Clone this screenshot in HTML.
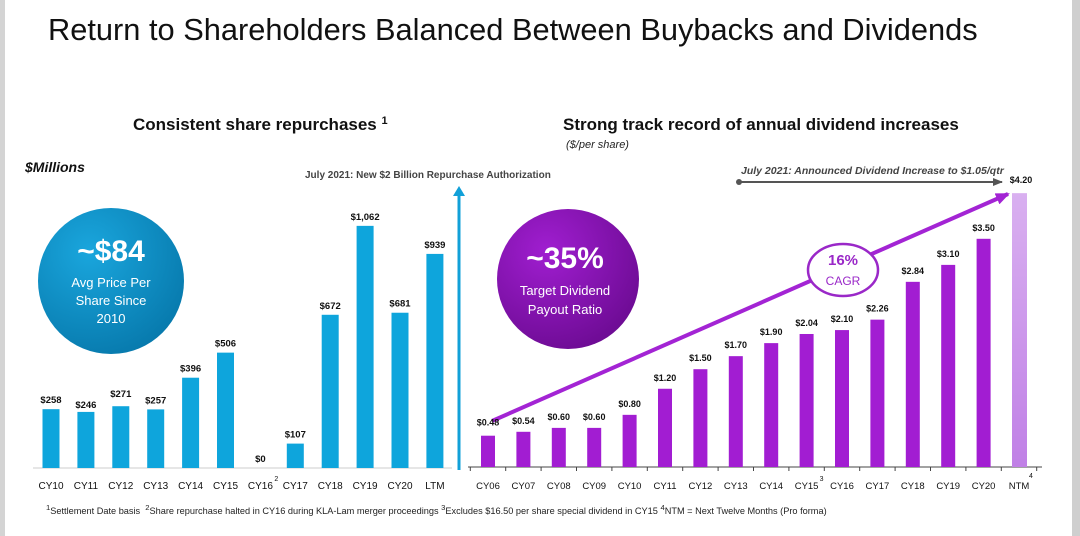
<!DOCTYPE html>
<html><head><meta charset="utf-8"><style>
body{margin:0;width:1080px;height:536px;overflow:hidden;background:#fff;font-family:"Liberation Sans",sans-serif;position:relative}
.t{position:absolute;white-space:nowrap}
</style></head><body>
<div style="position:absolute;left:0;top:0;width:5px;height:536px;background:#d4d4d4"></div>
<div style="position:absolute;left:1072px;top:0;width:8px;height:536px;background:#cfcfcf"></div>
<div class="t" style="left:48px;top:12px;font-size:30.8px;color:#111">Return to Shareholders Balanced Between Buybacks and Dividends</div>
<div class="t" style="left:133px;top:115px;font-size:17px;font-weight:bold;color:#111">Consistent share repurchases <span style="font-size:11px;vertical-align:top">1</span></div>
<div class="t" style="left:563px;top:115px;font-size:17px;font-weight:bold;color:#111">Strong track record of annual dividend increases</div>
<div class="t" style="left:566px;top:139px;font-size:11px;font-style:italic;color:#222">($/per share)</div>
<div class="t" style="left:25px;top:159px;font-size:14px;font-style:italic;font-weight:bold;color:#111">$Millions</div>
<div class="t" style="left:46px;top:503px;font-size:9.2px;color:#222"><sup>1</sup>Settlement Date basis &nbsp;<sup>2</sup>Share repurchase halted in CY16 during KLA-Lam merger proceedings <sup>3</sup>Excludes $16.50 per share special dividend in CY15 <sup>4</sup>NTM = Next Twelve Months (Pro forma)</div>
<svg width="1080" height="536" style="position:absolute;left:0;top:0" id="svg">
<defs>
<radialGradient id="bg1" cx="0.35" cy="0.3" r="0.8"><stop offset="0" stop-color="#1aa6dd"/><stop offset="1" stop-color="#0677aa"/></radialGradient>
<radialGradient id="pg1" cx="0.35" cy="0.3" r="0.8"><stop offset="0" stop-color="#a01ed0"/><stop offset="1" stop-color="#6a0a90"/></radialGradient>
<linearGradient id="ntm" x1="0" x2="0" y1="0" y2="1"><stop offset="0" stop-color="#d9b0f0"/><stop offset="1" stop-color="#c080e6"/></linearGradient>
<marker id="ah" markerUnits="userSpaceOnUse" markerWidth="14" markerHeight="12" refX="12" refY="6" orient="auto"><path d="M0,0 L14,6 L0,12z" fill="#a324d4"/></marker>
<marker id="ag" markerUnits="userSpaceOnUse" markerWidth="10" markerHeight="8" refX="9" refY="4" orient="auto"><path d="M0,0 L10,4 L0,8z" fill="#555"/></marker>
</defs>
<g>
<circle cx="111" cy="281" r="73" fill="url(#bg1)"/>
<text x="111" y="261" text-anchor="middle" fill="#fff" font-size="30" font-weight="bold" font-family="Liberation Sans">~$84</text>
<text x="111" y="287" text-anchor="middle" fill="#fff" font-size="13" font-family="Liberation Sans">Avg Price Per</text>
<text x="111" y="305" text-anchor="middle" fill="#fff" font-size="13" font-family="Liberation Sans">Share Since</text>
<text x="111" y="323" text-anchor="middle" fill="#fff" font-size="13" font-family="Liberation Sans">2010</text>
</g>
<g>
<ellipse cx="568" cy="279" rx="71" ry="70" fill="url(#pg1)"/>
<text x="565" y="268" text-anchor="middle" fill="#fff" font-size="30" font-weight="bold" font-family="Liberation Sans">~35%</text>
<text x="565" y="295" text-anchor="middle" fill="#fff" font-size="13" font-family="Liberation Sans">Target Dividend</text>
<text x="565" y="314" text-anchor="middle" fill="#fff" font-size="13" font-family="Liberation Sans">Payout Ratio</text>
</g>
<g>
<line x1="459" y1="470" x2="459" y2="194" stroke="#11a0d8" stroke-width="3"/>
<path d="M453,196 L459,186 L465,196z" fill="#11a0d8"/>
<text x="305" y="178" font-size="10" font-weight="bold" fill="#444" font-family="Liberation Sans">July 2021: New $2 Billion Repurchase Authorization</text>
</g>
<g>
<text x="741" y="174" font-size="10.5" font-style="italic" font-weight="bold" fill="#444" font-family="Liberation Sans">July 2021: Announced Dividend Increase to $1.05/qtr</text>
<line x1="739" y1="182" x2="1002" y2="182" stroke="#555" stroke-width="2" marker-end="url(#ag)"/>
<circle cx="739" cy="182" r="3" fill="#555"/>
</g>
<line x1="492" y1="421" x2="1008" y2="194" stroke="#a324d4" stroke-width="4" marker-end="url(#ah)"/>
<g>
<ellipse cx="843" cy="270" rx="35" ry="26" fill="#fff" stroke="#9a28c8" stroke-width="2.5"/>
<text x="843" y="265" text-anchor="middle" font-size="15" font-weight="bold" fill="#9a28c8" font-family="Liberation Sans">16%</text>
<text x="843" y="285" text-anchor="middle" font-size="12" fill="#9a28c8" font-family="Liberation Sans">CAGR</text>
</g>
<g id="left"></g><g id="right"></g>
</svg>
<script>
const buyCats=["CY10","CY11","CY12","CY13","CY14","CY15","CY16","CY17","CY18","CY19","CY20","LTM"];
const buyVals=[258,246,271,257,396,506,0,107,672,1062,681,939];
const buyLabels=["$258","$246","$271","$257","$396","$506","$0","$107","$672","$1,062","$681","$939"];
const divCats=["CY06","CY07","CY08","CY09","CY10","CY11","CY12","CY13","CY14","CY15","CY16","CY17","CY18","CY19","CY20","NTM"];
const divVals=[0.48,0.54,0.60,0.60,0.80,1.20,1.50,1.70,1.90,2.04,2.10,2.26,2.84,3.10,3.50,4.20];
const divLabels=["$0.48","$0.54","$0.60","$0.60","$0.80","$1.20","$1.50","$1.70","$1.90","$2.04","$2.10","$2.26","$2.84","$3.10","$3.50","$4.20"];
const NS="http://www.w3.org/2000/svg";
function mk(tag,attrs,parent,txt){const e=document.createElementNS(NS,tag);for(const k in attrs)e.setAttribute(k,attrs[k]);if(txt!==undefined)e.textContent=txt;parent.appendChild(e);return e;}
const L=document.getElementById('left');
const lx=i=>51+i*34.9, ly=v=>468-v*0.228;
let ax=mk('line',{x1:33,y1:468,x2:452,y2:468,stroke:'#ccc','stroke-width':1},L);


buyCats.forEach((c,i)=>{
 const v=buyVals[i];
 if(v>0){const r=mk('rect',{x:lx(i)-8.5,y:ly(v),width:17,height:468-ly(v),fill:'#0ea5dc'},L);
 
 }
 const yoff=(c==="CY11")?-4:-6;
 const t=mk('text',{x:lx(i),y:ly(v)+yoff+(c==="CY12"?-3:0),'text-anchor':'middle','font-size':9.5,'font-weight':'bold',fill:'#111','font-family':'Liberation Sans'},L,buyLabels[i]);
 
 
 const xl=mk('text',{x:lx(i),y:489,'text-anchor':'middle','font-size':10,fill:'#111','font-family':'Liberation Sans'},L,c);
 
 
});
mk('text',{x:lx(6)+14,y:481,'font-size':7,fill:'#111'},L,'2');
const R=document.getElementById('right');
const rx=i=>488+i*35.4, ry=v=>467-v*65.2;
let ax2=mk('line',{x1:468,y1:467,x2:1042,y2:467,stroke:'#444','stroke-width':1},R);


for(let i=0;i<=divCats.length;i++){mk('line',{x1:rx(i)-17.7,y1:467,x2:rx(i)-17.7,y2:471,stroke:'#444'},R);}
divCats.forEach((c,i)=>{
 const v=divVals[i];
 const r=mk('rect',{x:rx(i)-7,y:ry(v),width:c==="NTM"?15:14,height:467-ry(v),fill:c==="NTM"?'url(#ntm)':'#a21dd2'},R);
 
 
 const t=mk('text',{x:rx(i)+(c==="NTM"?2:0),y:ry(v)-(c==="NTM"?10:8)+(c==="CY06"?-2:0),'text-anchor':'middle','font-size':9,'font-weight':'bold',fill:'#111','font-family':'Liberation Sans'},R,divLabels[i]);
 
 
 const xl=mk('text',{x:rx(i),y:489,'text-anchor':'middle','font-size':9.5,fill:'#111','font-family':'Liberation Sans'},R,c);
 
 
});
mk('text',{x:rx(9)+13,y:481,'font-size':7,fill:'#111'},R,'3');
mk('text',{x:rx(15)+10,y:478,'font-size':7,fill:'#111'},R,'4');
</script>
</body></html>
